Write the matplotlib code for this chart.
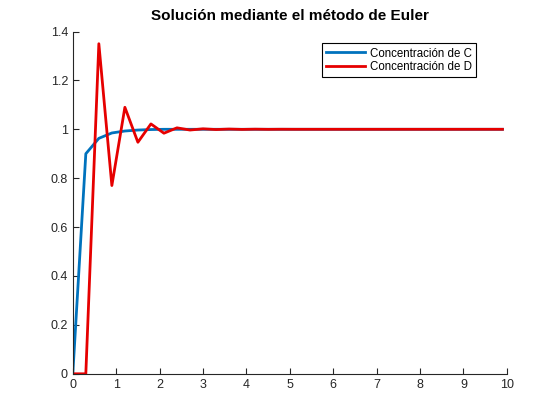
import numpy as np
import matplotlib.pyplot as plt

plt.rcParams['font.family'] = ['Liberation Sans', 'DejaVu Sans']

# time steps (h = 0.3)
t = [0.0, 0.3, 0.6, 0.9, 1.2, 1.5, 1.8, 2.1, 2.4, 2.7, 3.0, 3.3, 3.6, 3.9, 4.2,
     4.5, 4.8, 5.1, 5.4, 5.7, 6.0, 6.3, 6.6, 6.9, 7.2, 7.5, 7.8, 8.1, 8.4, 8.7,
     9.0, 9.3, 9.6, 9.9]
conc_c = [0.0, 0.9, 0.963, 0.985, 0.993, 0.997, 0.999, 1.0, 1.0, 1.0, 1.0, 1.0,
          1.0, 1.0, 1.0, 1.0, 1.0, 1.0, 1.0, 1.0, 1.0, 1.0, 1.0, 1.0, 1.0, 1.0,
          1.0, 1.0, 1.0, 1.0, 1.0, 1.0, 1.0, 1.0]
conc_d = [0.0, 0.0, 1.35, 0.77, 1.09, 0.947, 1.022, 0.984, 1.006, 0.997, 1.002,
          0.999, 1.001, 0.9995, 1.0005, 0.9998, 1.0002, 1.0, 1.0, 1.0, 1.0, 1.0,
          1.0, 1.0, 1.0, 1.0, 1.0, 1.0, 1.0, 1.0, 1.0, 1.0, 1.0, 1.0]

xticks = list(range(0, 11))
yticks = [0, 0.2, 0.4, 0.6, 0.8, 1, 1.2, 1.4]
ytick_labels = ['0', '0.2', '0.4', '0.6', '0.8', '1', '1.2', '1.4']

fig = plt.figure(figsize=(5.6, 4.2), dpi=100)
ax = fig.add_axes([0.13, 0.11, 0.775, 0.815])

ax.plot(t, conc_c, color='#0072BD', linewidth=2, label='Concentración de C')
ax.plot(t, conc_d, color='#e60000', linewidth=2, label='Concentración de D')

ax.set_xlim(0, 10)
ax.set_ylim(0, 1.4)
ax.set_xticks(xticks)
ax.set_yticks(yticks)
ax.set_yticklabels(ytick_labels)
ax.tick_params(direction='in', length=4, labelsize=9, colors='#262626')
for side in ['top', 'right']:
    ax.spines[side].set_visible(False)
for side in ['left', 'bottom']:
    ax.spines[side].set_color('#262626')
    ax.spines[side].set_linewidth(0.8)

ax.set_title('Solución mediante el método de Euler', fontsize=11, fontweight='bold', pad=8)

leg = ax.legend(loc='upper right', bbox_to_anchor=(0.929, 0.965), borderaxespad=0,
                fontsize=8.3, fancybox=False, framealpha=1, edgecolor='black',
                handlelength=3.4, borderpad=0.35, labelspacing=0.15, handletextpad=0.4)
leg.get_frame().set_linewidth(0.8)

plt.savefig('out.png')
